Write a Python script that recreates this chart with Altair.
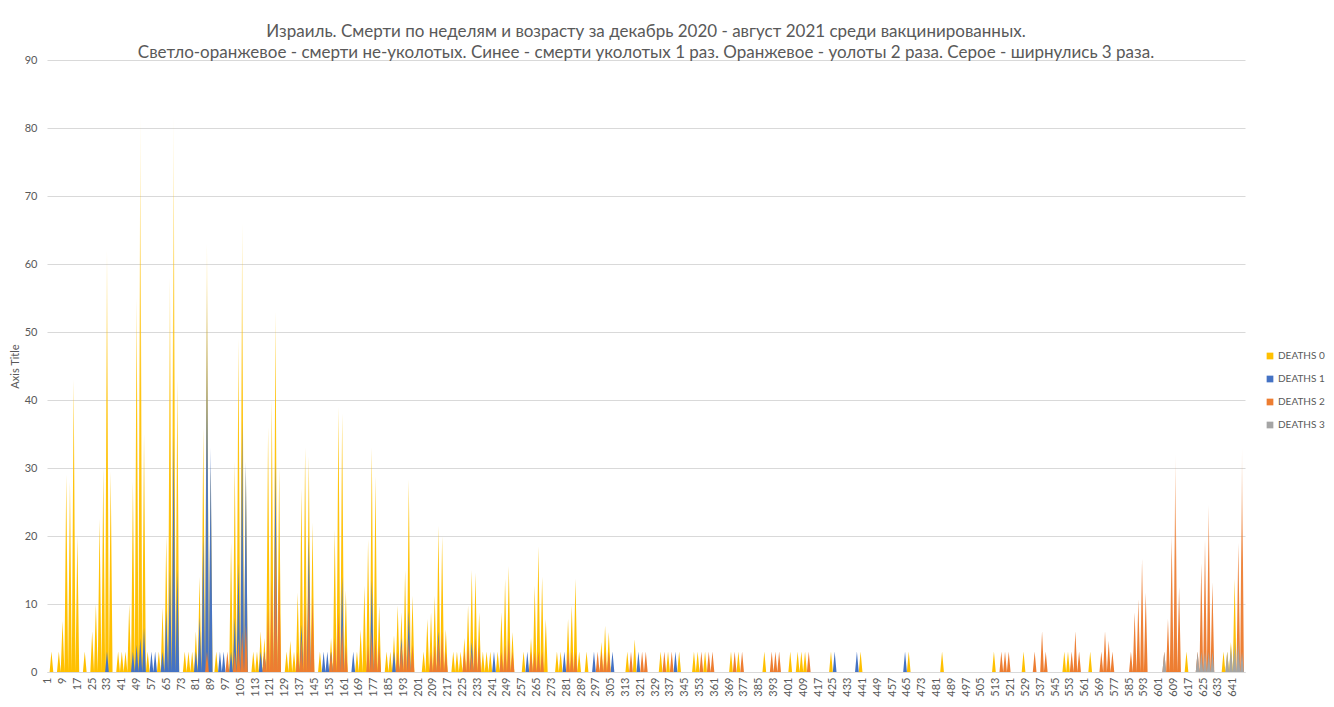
import altair as alt
import pandas as pd

N = 648
categories = list(range(1, N + 1))
x_tick_values = list(range(1, N + 1, 8))
y_tick_values = list(range(0, 91, 10))

series_names = ["DEATHS 0", "DEATHS 1", "DEATHS 2", "DEATHS 3"]
series_colors = ["#FFC000", "#4472C4", "#ED7D31", "#A5A5A5"]

# DEATHS 0 (unvaccinated) - spike positions and values
d0_pos = [3, 7, 9, 11, 13, 15, 17,
          21, 25, 27, 29, 31, 33, 35,
          39, 41, 43, 45, 47, 49, 51, 53,
          55, 61, 63, 65, 67, 69, 71,
          75, 77, 79, 81, 83, 85, 87, 89,
          92, 100, 102, 104, 106, 108,
          112, 114, 116, 118, 120, 122, 124, 126,
          130, 132, 134, 136, 138, 140, 142, 144,
          148, 154, 156, 158, 160, 162,
          168, 170, 172, 174, 176, 178, 180,
          184, 186, 188, 190, 192, 194, 196, 198,
          204, 206, 208, 210, 212, 214, 216,
          220, 222, 224, 226, 228, 230, 232, 234,
          236, 238, 240, 244, 246, 248, 250, 252,
          258, 262, 264, 266, 268, 270,
          276, 278, 282, 284, 286, 288,
          292, 300, 302, 304,
          314, 318, 332, 336, 342, 350, 352, 356, 370, 374, 388,
          402, 406, 408, 410, 424, 440, 466, 484, 512, 528,
          550, 552, 564, 616, 636, 638, 640, 642]
d0_val = [3, 3, 7.5, 29, 28, 43, 20,
          3, 6, 10, 22.5, 30, 62, 29.5,
          3, 3, 3, 10, 28, 55, 82, 35,
          3, 3, 9.5, 20, 58, 82, 43,
          3, 3, 3, 6, 14, 36, 63, 30,
          3, 19, 31, 49, 66, 30,
          3, 3, 6, 5, 36, 40, 53, 30,
          3, 4.6, 3, 11.7, 27, 33, 31.7, 22,
          3, 5, 21, 39, 38, 12,
          3, 6.3, 12.7, 19.5, 33, 28.8, 9.8,
          3, 3, 5.4, 9.8, 8.8, 15, 28.3, 11.2,
          3, 7.8, 8.8, 11.2, 21.5, 20, 6.3,
          3, 3, 3, 5, 9.8, 15, 14.6, 8.8,
          3, 3, 3, 3, 8.8, 13.7, 15.6, 5.9,
          3, 5, 12.7, 18.5, 14, 7.8,
          3, 3, 7.8, 9.8, 13.7, 3,
          3, 4.4, 6.8, 5.9,
          3, 4.8, 3, 3, 3, 3, 3, 3, 3, 3, 3,
          3, 3, 3, 3, 3, 3, 3, 3, 3, 3,
          3, 3, 3, 3, 3, 3, 4.4, 13.7]

# DEATHS 1 (one dose)
d1_pos = [33, 47, 49, 51, 53, 57, 59, 63, 65, 67, 69, 71,
          81, 83, 85, 87, 89, 94, 96, 100, 102, 104, 106, 108,
          116, 118, 124, 138, 142, 150, 152, 154, 160, 166, 176,
          188, 192, 196, 212, 230, 242, 260, 280, 296, 306, 320,
          340, 426, 438, 464]
d1_val = [3, 3, 4, 5, 6.5, 3, 3, 3, 9, 15, 35, 15,
          3, 8, 20, 58, 33, 3, 3, 3, 8, 16, 37, 31,
          3, 3, 31, 7, 20, 3, 3, 3, 14, 3, 13.6,
          3, 5, 9, 6, 4.4, 3, 3, 3, 3, 3, 3,
          3, 3, 3, 3]

# DEATHS 2 (two doses)
d2_pos = [87, 98, 102, 104, 106, 108,
          118, 120, 122, 124, 126, 136, 138, 140, 142, 144,
          154, 156, 158, 160, 162, 174, 176, 178, 180,
          190, 192, 194, 196, 198, 208, 210, 212, 214, 216,
          226, 228, 230, 232, 234, 246, 248, 250, 252,
          262, 264, 266, 268, 282, 284, 286, 298, 300, 302, 304,
          316, 322, 324, 334, 338, 354, 358, 360, 372, 376,
          392, 394, 396, 412, 516, 518, 520, 534, 538, 540,
          554, 556, 558, 570, 572, 574, 576,
          586, 588, 590, 592, 594, 604, 606, 608, 610, 612,
          622, 624, 626, 628, 630, 644, 646]
d2_val = [3, 3, 3, 5, 6, 7,
          3, 9.4, 13.7, 20, 15.6, 3, 5, 10, 13.7, 11,
          3, 5, 8.8, 7, 4, 4, 6, 5, 4,
          3, 4, 5, 5, 4, 3, 4, 5, 6, 3,
          3, 4, 3, 5, 4, 3, 4, 5, 3,
          3, 3, 3, 3, 3, 3, 3, 3, 3, 3, 3,
          3, 3, 3, 3, 3, 3, 3, 3, 3, 3,
          3, 3, 3, 3, 3, 3, 3, 3, 6, 3,
          3, 6, 3, 3, 6, 4.6, 3,
          3, 8.8, 10.7, 16.6, 11.7, 3, 7.8, 20, 32, 12.5,
          3, 16, 19.5, 24.6, 13.2, 19, 33]

# DEATHS 3 (three doses)
d3_pos = [604, 622, 624, 626, 628, 630, 638, 640, 642, 644, 646]
d3_val = [3, 3, 3, 3, 3, 3, 3, 4, 5, 5, 3]


def expand(pos, val):
    arr = [0.0] * N
    for p, v in zip(pos, val):
        arr[p - 1] = float(v)
    return arr


df = pd.DataFrame({
    "cat": categories,
    "d0": expand(d0_pos, d0_val),
    "d1": expand(d1_pos, d1_val),
    "d2": expand(d2_pos, d2_val),
    "d3": expand(d3_pos, d3_val),
})


def rgba(hexcol, a):
    h = hexcol.lstrip("#")
    r, g, b = int(h[0:2], 16), int(h[2:4], 16), int(h[4:6], 16)
    return f"rgba({r},{g},{b},{a})"


def grad(hexcol):
    return alt.Gradient(
        gradient="linear",
        stops=[
            alt.GradientStop(color=rgba(hexcol, 1.0), offset=0),
            alt.GradientStop(color=rgba(hexcol, 0.92), offset=0.5),
            alt.GradientStop(color=rgba(hexcol, 0.2), offset=1),
        ],
        x1=0, y1=1, x2=0, y2=0,
    )


FONT = "Lato"
GREY_TXT = "#595959"

x_scale = alt.Scale(domain=[0.6, 647.6], nice=False, zero=False)
y_scale = alt.Scale(domain=[0, 90], nice=False)


def x_axis():
    return alt.Axis(values=x_tick_values, labelAngle=-90, labelFontSize=11, labelColor=GREY_TXT,
                    labelFont=FONT, labelPadding=5, ticks=False, grid=False, domain=True,
                    domainColor="#d9d9d9", labelOverlap=False, labelFlush=False, labelBound=False,
                    title=None)


def y_axis():
    return alt.Axis(values=y_tick_values, labelFontSize=11, labelColor=GREY_TXT, labelFont=FONT,
                    labelPadding=10, ticks=False, domain=False, grid=True, gridColor="#d9d9d9",
                    title="Axis Title", titleFont=FONT, titleFontSize=11, titleFontWeight="normal",
                    titleColor=GREY_TXT, titleX=-32, titleY=306, titleAngle=-90,
                    titleBaseline="middle", titleAlign="center")


layers = []
for field, col in zip(["d0", "d1", "d2", "d3"], series_colors):
    layers.append(
        alt.Chart(df).mark_area(fill=grad(col), interpolate="linear", strokeWidth=0).encode(
            x=alt.X("cat:Q", scale=x_scale, axis=x_axis()),
            y=alt.Y(f"{field}:Q", scale=y_scale, axis=y_axis()),
        )
    )

legend_df = pd.DataFrame({"series": series_names})
legend_layer = alt.Chart(legend_df).mark_point(shape="square", filled=True, opacity=0).encode(
    x=alt.value(0), y=alt.value(0),
    color=alt.Color("series:N", scale=alt.Scale(domain=series_names, range=series_colors),
                    legend=alt.Legend(title=None, orient="none", legendX=1218, legendY=291,
                                      symbolType="square", symbolSize=45, symbolOpacity=1,
                                      symbolStrokeWidth=0, labelFontSize=10, labelColor=GREY_TXT,
                                      labelFont=FONT, rowPadding=13, labelOffset=3)),
)

title_lines = [
    "Израиль. Смерти по неделям и возрасту за декабрь 2020 - август 2021 среди вакцинированных.",
    "Светло-оранжевое - смерти не-уколотых. Синее -  смерти уколотых 1 раз. Оранжевое - уолоты 2 раза. Серое - ширнулись 3 раза.",
]

chart = alt.layer(*layers, legend_layer).properties(
    width=1198, height=612,
    title=alt.TitleParams(text=title_lines, fontSize=17, font=FONT, fontWeight="normal",
                          color=GREY_TXT, anchor="middle", lineHeight=21, offset=-8),
    autosize=alt.AutoSizeParams(type="none"),
    padding={"left": 39, "top": 52, "right": 81, "bottom": 27},
).configure(background="white").configure_view(stroke=None)

chart.save("out.html", embed_options={"renderer": "svg", "actions": False})
